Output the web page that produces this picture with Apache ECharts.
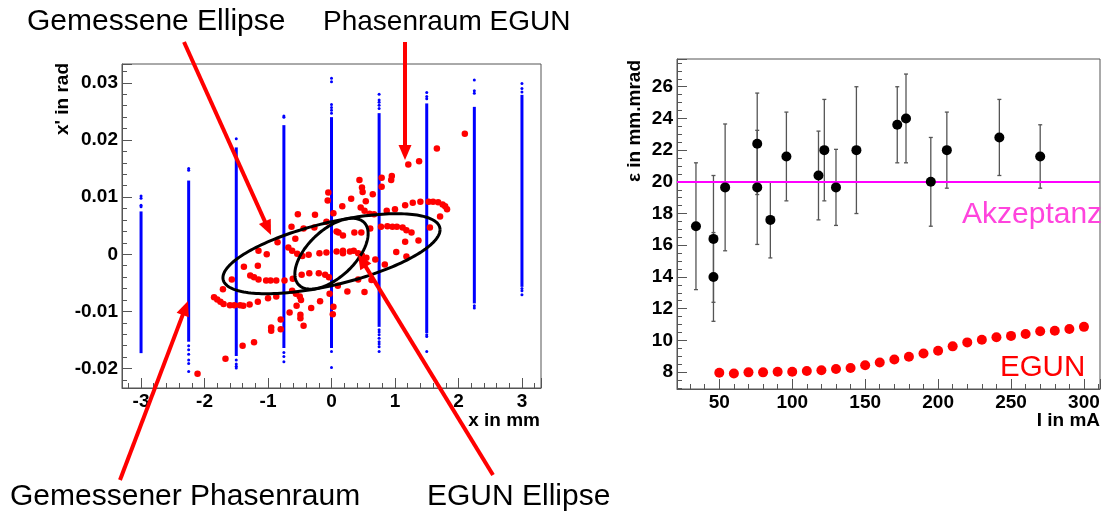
<!DOCTYPE html>
<html><head><meta charset="utf-8">
<script src="https://cdn.jsdelivr.net/npm/echarts@6/dist/echarts.min.js"></script>
<style>html,body{margin:0;padding:0;background:#fff}#c{width:1105px;height:515px}</style>
</head><body><div id="c"></div>
<script>
// ---------- Left panel: phase space ----------
const colX    = [-3, -2.25, -1.5, -0.75, 0, 0.75, 1.5, 2.25, 3];
const colLow  = [-0.0173, -0.0153, -0.0178, -0.0164, -0.0164, -0.0127, -0.0138, -0.0086, -0.0057];
const colHigh = [0.0075, 0.0129, 0.0187, 0.0226, 0.0240, 0.0247, 0.0264, 0.0258, 0.0279];
const blueSparse = [
  [-3,0.0102],[-3,0.0098],[-3,0.0086],[-3,0.0083],
  [-2.25,0.0150],[-2.25,0.0147],[-2.25,-0.0160],[-2.25,-0.0167],[-2.25,-0.0175],[-2.25,-0.0185],[-2.25,-0.0191],[-2.25,-0.0205],
  [-1.5,0.0202],[-1.5,-0.0185],[-1.5,-0.0192],[-1.5,-0.0196],[-1.5,-0.0199],
  [-0.75,0.0242],[-0.75,0.0240],[-0.75,-0.0172],[-0.75,-0.0179],[-0.75,-0.0188],
  [0,0.0308],[0,0.0302],[0,0.0262],[0,0.0257],[0,0.0252],[0,0.0247],[0,-0.0170],[0,-0.0198],
  [0.75,0.0280],[0.75,0.0270],[0.75,0.0266],[0.75,0.0261],[0.75,0.0255],
  [0.75,-0.0132],[0.75,-0.0136],[0.75,-0.0141],[0.75,-0.0147],[0.75,-0.0153],[0.75,-0.0157],[0.75,-0.0162],[0.75,-0.0170],
  [1.5,0.0283],[1.5,0.0276],[1.5,0.0272],[1.5,-0.0141],[1.5,-0.0144],[1.5,-0.0170],
  [2.25,0.0305],[2.25,0.0286],[2.25,0.0282],[2.25,-0.0090],[2.25,-0.0094],
  [3,0.0299],[3,0.0290],[3,0.0284],[3,-0.0060],[3,-0.0064],[3,-0.0071]
];
const redPts = [
  [2.10,0.0211],[1.66,0.0185],[1.38,0.0163],[1.21,0.0157],
  [0.44,0.0130],[0.79,0.0134],[0.95,0.0137],[0.94,0.0130],[0.79,0.0118],[0.48,0.0117],[0.49,0.0109],[0.65,0.0105],[0.31,0.0097],[0.17,0.0084],[0.54,0.0093],
  [-0.05,0.0108],[-0.06,0.0094],
  [0.46,0.0082],[0.52,0.0076],[0.60,0.0071],[0.67,0.0070],
  [0.87,0.0076],[1.00,0.0079],[1.16,0.0086],[1.28,0.0090],[1.40,0.0092],[1.53,0.0092],[1.60,0.0092],[1.68,0.0091],[1.75,0.0087],[1.79,0.0084],[1.82,0.0079],
  [1.71,0.0066],[1.55,0.0047],[1.37,0.0024],[1.16,0.0022],[1.02,0.0004],[1.18,-0.0004],
  [0.03,0.0072],[-0.53,0.0070],[-0.26,0.0069],[-0.08,0.0057],[-0.63,0.0048],[-0.44,0.0045],[-0.27,0.0047],
  [0.08,0.0040],[0.11,0.0038],[0.18,0.0033],
  [0.36,0.0038],[0.47,0.0038],[0.61,0.0045],[0.78,0.0048],[0.88,0.0049],[0.96,0.0048],[1.03,0.0048],[1.12,0.0047],[1.18,0.0042],[1.26,0.0038],
  [-0.57,0.0027],[-0.85,0.0021],[-1.15,0.0006],[-1.02,0.0000],
  [-0.68,0.0012],[-0.62,0.0006],[-0.54,0.0001],[-0.46,-0.0003],
  [-0.36,-0.0001],[-0.19,0.0002],[-0.08,0.0003],[0.08,0.0005],[0.18,0.0006],[0.18,0.0002],[0.29,0.0005],
  [0.35,0.0006],[0.42,0.0002],[0.48,-0.0002],[0.55,-0.0006],[0.69,-0.0009],[0.84,-0.0018],
  [-1.38,-0.0022],[-1.16,-0.0020],[-1.57,-0.0044],[-1.71,-0.0061],
  [-1.28,-0.0037],[-1.22,-0.0040],[-1.15,-0.0044],[-1.03,-0.0046],[-0.96,-0.0046],[-0.87,-0.0046],[-0.74,-0.0046],[-0.61,-0.0043],[-0.47,-0.0036],[-0.35,-0.0033],[-0.20,-0.0033],[-0.10,-0.0036],[-0.04,-0.0040],
  [0.63,-0.0045],[0.42,-0.0044],[0.25,-0.0065],[0.52,-0.0066],[0.10,-0.0055],
  [0.03,-0.0092],[0.02,-0.0105],
  [-0.62,-0.0064],[-0.56,-0.0069],[-0.50,-0.0074],[-0.48,-0.0080],
  [-0.18,-0.0082],[-0.03,-0.0069],
  [-0.87,-0.0074],[-1.00,-0.0077],[-1.16,-0.0083],[-1.29,-0.0088],[-1.39,-0.0090],[-1.44,-0.0089],[-1.53,-0.0089],[-1.60,-0.0089],[-1.70,-0.0087],[-1.75,-0.0083],[-1.80,-0.0079],[-1.85,-0.0075],
  [-0.66,-0.0102],[-0.55,-0.0090],[-0.49,-0.0106],[-0.49,-0.0112],[-0.44,-0.0125],[-0.32,-0.0094],
  [-0.80,-0.0114],[-0.95,-0.0128],[-0.95,-0.0134],[-0.80,-0.0131],
  [-1.22,-0.0154],[-1.40,-0.0160],[-1.67,-0.0183],[-2.11,-0.0209]
];
// ellipses: [centre x, centre x', max |x|, max |x'|, correlation cos(phi)]
const ellipses = [
  [0, 0.0001, 1.71, 0.0070, 0.60],   // Gemessene Ellipse
  [0, 0.0001, 0.577, 0.0062, 0.57]   // EGUN Ellipse
];
const leftXRange = [-3.3, 3.3];
const leftYRange = [-0.0234, 0.0333];

// ---------- Right panel: emittance vs current ----------
const measI   = [34, 46, 46, 54, 76, 76, 85, 96, 118, 122, 130, 144, 172, 178, 195, 206, 242, 270];
const measEps = [17.2, 16.4, 14.0, 19.65, 22.4, 19.65, 17.6, 21.6, 20.4, 22.0, 19.65, 22.0, 23.6, 24.0, 20.0, 22.0, 22.8, 21.6];
const measErr = [4.0, 4.0, 2.8, 4.0, 3.2, 3.6, 2.4, 2.8, 2.8, 3.2, 2.4, 4.0, 2.4, 2.8, 2.8, 2.4, 2.4, 2.0];
const egunI   = [50,60,70,80,90,100,110,120,130,140,150,160,170,180,190,200,210,220,230,240,250,260,270,280,290,300];
const egunEps = [7.96,7.91,7.98,7.98,8.02,8.02,8.06,8.11,8.19,8.26,8.43,8.60,8.79,8.96,9.17,9.34,9.62,9.87,10.04,10.19,10.28,10.40,10.57,10.60,10.72,10.85];
const akzeptanz = 20;
const rightXRange = [21, 311];
const rightYRange = [6.93, 27.75];

const FONT = '"Liberation Sans", Arial, Helvetica, sans-serif';
const frameColor = '#555';

function labelFmt(step, dec) {
  return function (v) {
    const r = v / step;
    if (Math.abs(r - Math.round(r)) > 1e-6) return '';
    return String(+(Math.round(r) * step).toFixed(dec));
  };
}
function majorAxis(range, grid, pos, split, fmt) {
  return {
    type: 'value', gridIndex: grid, position: pos, min: range[0], max: range[1], splitNumber: split,
    axisLine: {show: true, onZero: false, lineStyle: {color: frameColor, width: 1}},
    axisTick: {show: true, inside: true, length: 10, lineStyle: {color: frameColor, width: 1}},
    axisLabel: {show: true, margin: 4, formatter: fmt, color: '#000', fontFamily: FONT, fontWeight: 'bold', fontSize: 19, hideOverlap: false},
    splitLine: {show: false}
  };
}
function minorAxis(range, grid, pos, split) {
  return {
    type: 'value', gridIndex: grid, position: pos, min: range[0], max: range[1], splitNumber: split,
    axisLine: {show: false, onZero: false},
    axisTick: {show: true, inside: true, length: 5, lineStyle: {color: frameColor, width: 1}},
    axisLabel: {show: false}, splitLine: {show: false}
  };
}

const chart = echarts.init(document.getElementById('c'), null, {renderer: 'canvas'});

function arrow(x1, y1, x2, y2) {
  const dx = x2 - x1, dy = y2 - y1, L = Math.hypot(dx, dy), ux = dx / L, uy = dy / L;
  const hl = 15, hw = 6.5;
  const bx = x2 - ux * hl, by = y2 - uy * hl;
  return [
    {type: 'line', z: 100, shape: {x1: x1, y1: y1, x2: bx + ux * 2, y2: by + uy * 2}, style: {stroke: '#ff0000', lineWidth: 4}},
    {type: 'polygon', z: 100, shape: {points: [[x2, y2], [bx - uy * hw, by + ux * hw], [bx + uy * hw, by - ux * hw]]}, style: {fill: '#ff0000'}}
  ];
}
function txt(x, y, s, opts) {
  return {type: 'text', z: 100, x: x, y: y, style: Object.assign({text: s, fontFamily: FONT, fontSize: 30, fill: '#000', align: 'left', verticalAlign: 'middle'}, opts || {})};
}
function rtxt(x, y, s, opts) {
  return {type: 'text', z: 100, x: x, y: y, rotation: Math.PI / 2,
    style: Object.assign({text: s, fontFamily: FONT, fontSize: 19, fontWeight: 'bold', fill: '#000', align: 'right', verticalAlign: 'middle'}, opts || {})};
}

const graphics = [].concat(
  arrow(184, 42, 271, 235),
  arrow(405, 42, 405, 160),
  arrow(120, 480, 188, 301),
  arrow(493, 475, 358, 254),
  [
    txt(27, 22, 'Gemessene Ellipse'),
    txt(323, 22, 'Phasenraum EGUN', {fontSize: 28}),
    txt(10, 497, 'Gemessener Phasenraum'),
    txt(427, 497, 'EGUN Ellipse'),
    txt(962, 215, 'Akzeptanz', {fill: '#ff44dd', fontSize: 30}),
    txt(1000, 368, 'EGUN', {fill: '#ff0000', fontSize: 29.5}),
    rtxt(63, 63, "x' in rad"),
    rtxt(635, 60, 'ε in mm.mrad'),
    {type: 'text', z: 100, x: 540, y: 421, style: {text: 'x in mm', fontFamily: FONT, fontSize: 19, fontWeight: 'bold', fill: '#000', align: 'right', verticalAlign: 'middle'}},
    {type: 'text', z: 100, x: 1100, y: 421, style: {text: 'I in mA', fontFamily: FONT, fontSize: 19, fontWeight: 'bold', fill: '#000', align: 'right', verticalAlign: 'middle'}}
  ]
);

const option = {
  animation: false,
  backgroundColor: '#fff',
  grid: [
    {left: 122, top: 64, width: 419, height: 324, show: true, borderColor: frameColor, borderWidth: 1, backgroundColor: 'transparent'},
    {left: 677, top: 59, width: 423, height: 330, show: true, borderColor: frameColor, borderWidth: 1, backgroundColor: 'transparent'}
  ],
  xAxis: [
    majorAxis(leftXRange, 0, 'bottom', 6, labelFmt(1, 0)),
    minorAxis(leftXRange, 0, 'bottom', 33),
    majorAxis(rightXRange, 1, 'bottom', 5, labelFmt(50, 0)),
    minorAxis(rightXRange, 1, 'bottom', 29)
  ],
  yAxis: [
    majorAxis(leftYRange, 0, 'left', 5, labelFmt(0.01, 2)),
    minorAxis(leftYRange, 0, 'left', 28),
    majorAxis(rightYRange, 1, 'left', 10, labelFmt(2, 0)),
    minorAxis(rightYRange, 1, 'left', 40)
  ],
  series: [
    { // blue dense columns
      type: 'custom', xAxisIndex: 0, yAxisIndex: 0, z: 2, silent: true,
      data: colX.map((x, i) => [x, colLow[i], colHigh[i]]),
      encode: {x: 0, y: [1, 2]},
      renderItem: function (params, api) {
        const p1 = api.coord([api.value(0), api.value(1)]);
        const p2 = api.coord([api.value(0), api.value(2)]);
        return {type: 'line', shape: {x1: p1[0], y1: p1[1], x2: p2[0], y2: p2[1]}, style: {stroke: '#0000ff', lineWidth: 3}};
      }
    },
    { type: 'scatter', xAxisIndex: 0, yAxisIndex: 0, z: 2, silent: true, symbol: 'circle', symbolSize: 3,
      itemStyle: {color: '#0000ff', opacity: 1}, data: blueSparse },
    { type: 'scatter', xAxisIndex: 0, yAxisIndex: 0, z: 3, silent: true, symbol: 'circle', symbolSize: 6.5,
      itemStyle: {color: '#ff0000', opacity: 1}, data: redPts },
    { // ellipses
      type: 'custom', xAxisIndex: 0, yAxisIndex: 0, z: 4, silent: true,
      data: ellipses, encode: {x: 0, y: 1},
      renderItem: function (params, api) {
        const cx = api.value(0), cy = api.value(1), X = api.value(2), Y = api.value(3), c = api.value(4);
        const phi = Math.acos(c);
        const pts = [];
        for (let k = 0; k <= 180; k++) {
          const t = k / 180 * 2 * Math.PI;
          pts.push(api.coord([cx + X * Math.cos(t), cy + Y * Math.cos(t - phi)]));
        }
        return {type: 'polyline', shape: {points: pts}, style: {stroke: '#000', lineWidth: 3, fill: null}};
      }
    },
    { // error bars
      type: 'custom', xAxisIndex: 2, yAxisIndex: 2, z: 2, silent: true,
      data: measI.map((x, i) => [x, measEps[i] - measErr[i], measEps[i] + measErr[i]]),
      encode: {x: 0, y: [1, 2]},
      renderItem: function (params, api) {
        const lo = api.coord([api.value(0), api.value(1)]);
        const hi = api.coord([api.value(0), api.value(2)]);
        const st = {stroke: '#555', lineWidth: 1.3};
        return {type: 'group', children: [
          {type: 'line', shape: {x1: lo[0], y1: lo[1], x2: hi[0], y2: hi[1]}, style: st},
          {type: 'line', shape: {x1: lo[0] - 2, y1: lo[1], x2: lo[0] + 2, y2: lo[1]}, style: st},
          {type: 'line', shape: {x1: hi[0] - 2, y1: hi[1], x2: hi[0] + 2, y2: hi[1]}, style: st}
        ]};
      }
    },
    { type: 'scatter', xAxisIndex: 2, yAxisIndex: 2, z: 4, silent: true, symbol: 'circle', symbolSize: 10,
      itemStyle: {color: '#000', opacity: 1}, data: measI.map((x, i) => [x, measEps[i]]),
      markLine: {silent: true, symbol: 'none', label: {show: false}, z: 3,
        lineStyle: {color: '#ff00ff', width: 2, type: 'solid', opacity: 1}, data: [{yAxis: akzeptanz}]} },
    { type: 'scatter', xAxisIndex: 2, yAxisIndex: 2, z: 4, silent: true, symbol: 'circle', symbolSize: 10,
      itemStyle: {color: '#ff0000', opacity: 1}, data: egunI.map((x, i) => [x, egunEps[i]]) }
  ],
  graphic: graphics
};
chart.setOption(option);
</script></body></html>
